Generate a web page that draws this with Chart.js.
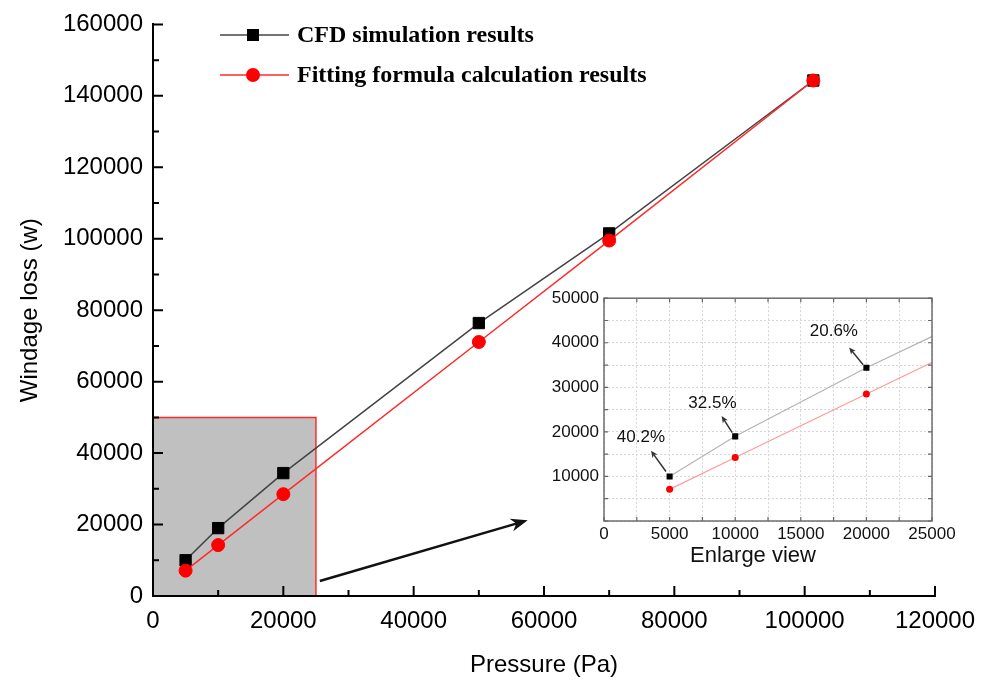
<!DOCTYPE html>
<html>
<head>
<meta charset="utf-8">
<script src="https://cdn.jsdelivr.net/npm/chart.js@4.4.1/dist/chart.umd.min.js"></script>
<style>
  html, body { margin: 0; padding: 0; background: #fff; }
  #wrap { position: relative; width: 995px; height: 683px; }
  #main { position: absolute; left: 0; top: 0; }
  #inset { position: absolute; left: 545px; top: 283px; }
</style>
</head>
<body>
<div id="wrap">
  <canvas id="main" width="995" height="683"></canvas>
  <canvas id="inset" width="420" height="295"></canvas>
</div>
<script>
// values
const pressure = [5000, 10000, 20000, 50000, 70000, 101325];
const cfdLoss = [10000, 19000, 34400, 76400, 101500, 144300];
const fitLoss = [7100, 14250, 28500, 71100, 99500, 144300];
const seriesNames = ['CFD simulation results', 'Fitting formula calculation results'];

// shaded zoom region and the arrow that points to the inset (data units)
const zoomX = [0, 25000];
const zoomY = [0, 50000];
const zoomArrow = [[25600, 4200], [57500, 21200]];

// inset annotations (data units of the inset)
const pctLabels = ['40.2%', '32.5%', '20.6%'];
const pctTextAt = [[2818, 18889], [8265, 26444], [17520, 42667]];
const pctArrowFrom = [[4723, 11111], [9773, 19844], [19752, 35044]];
const pctArrowTo = [[3580, 15778], [8965, 23556], [18685, 38956]];
const insetTitle = 'Enlarge view';

const SANS = "'Liberation Sans', Arial, sans-serif";
const SERIF = "'Liberation Serif', 'Times New Roman', serif";

const pts = ys => pressure.map((p, i) => ({ x: p, y: ys[i] }));
const num = v => String(v);

function arrow(ctx, x1, y1, x2, y2, len, wid, color, lw) {
  const a = Math.atan2(y2 - y1, x2 - x1);
  ctx.save();
  ctx.strokeStyle = color;
  ctx.fillStyle = color;
  ctx.lineWidth = lw;
  ctx.beginPath();
  ctx.moveTo(x1, y1);
  ctx.lineTo(x2 - Math.cos(a) * len * 0.6, y2 - Math.sin(a) * len * 0.6);
  ctx.stroke();
  ctx.translate(x2, y2);
  ctx.rotate(a);
  ctx.beginPath();
  ctx.moveTo(0, 0);
  ctx.lineTo(-len, -wid / 2);
  ctx.lineTo(-len * 0.7, 0);
  ctx.lineTo(-len, wid / 2);
  ctx.closePath();
  ctx.fill();
  ctx.restore();
}

// inward ticks, minor + major
function inTicks(ctx, area, xs, ys, step, big, small, both) {
  ctx.save();
  ctx.lineWidth = big > 6 ? 2 : 1.2;
  ctx.strokeStyle = big > 6 ? '#000' : '#666';
  ctx.beginPath();
  for (let v = xs.min; v <= xs.max + 1; v += step.x) {
    const px = xs.getPixelForValue(v);
    const l = (v % step.xMajor === 0) ? big : small;
    ctx.moveTo(px, area.bottom); ctx.lineTo(px, area.bottom - l);
    if (both) { ctx.moveTo(px, area.top); ctx.lineTo(px, area.top + l); }
  }
  for (let v = ys.min; v <= ys.max + 1; v += step.y) {
    const py = ys.getPixelForValue(v);
    const l = (v % step.yMajor === 0) ? big : small;
    ctx.moveTo(area.left, py); ctx.lineTo(area.left + l, py);
    if (both) { ctx.moveTo(area.right, py); ctx.lineTo(area.right - l, py); }
  }
  ctx.stroke();
  ctx.restore();
}

const mainDecor = {
  id: 'mainDecor',
  beforeDraw(chart) {
    const { ctx, scales: { x, y } } = chart;
    const l = x.getPixelForValue(zoomX[0]), r = x.getPixelForValue(zoomX[1]);
    const b = y.getPixelForValue(zoomY[0]), t = y.getPixelForValue(zoomY[1]);
    ctx.save();
    ctx.fillStyle = '#c0c0c0';
    ctx.fillRect(l, t, r - l, b - t);
    ctx.strokeStyle = '#ff2a2a';
    ctx.lineWidth = 1.5;
    ctx.beginPath();
    ctx.moveTo(l, t); ctx.lineTo(r, t); ctx.lineTo(r, b);
    ctx.stroke();
    ctx.restore();
  },
  afterDraw(chart) {
    const { ctx, chartArea: area, scales: { x, y } } = chart;
    inTicks(ctx, area, x, y, { x: 10000, xMajor: 20000, y: 10000, yMajor: 20000 }, 10, 6, false);

    arrow(ctx, x.getPixelForValue(zoomArrow[0][0]), y.getPixelForValue(zoomArrow[0][1]),
      x.getPixelForValue(zoomArrow[1][0]), y.getPixelForValue(zoomArrow[1][1]), 17, 13, '#111', 2.5);

    // legend
    chart.data.datasets.forEach((ds, i) => {
      const cy = 35 + i * 40;
      ctx.save();
      ctx.strokeStyle = ds.borderColor;
      ctx.lineWidth = 1.5;
      ctx.beginPath(); ctx.moveTo(220, cy); ctx.lineTo(289, cy); ctx.stroke();
      ctx.fillStyle = ds.pointBackgroundColor;
      ctx.beginPath();
      if (ds.pointStyle === 'rect') ctx.rect(247, cy - 6, 12, 12);
      else ctx.arc(253, cy, 7, 0, Math.PI * 2);
      ctx.fill();
      ctx.fillStyle = '#000';
      ctx.font = 'bold 24px ' + SERIF;
      ctx.textBaseline = 'middle';
      ctx.fillText(ds.label, 297, cy + 1);
      ctx.restore();
    });
  }
};

new Chart(document.getElementById('main'), {
  type: 'line',
  data: {
    datasets: [
      {
        label: seriesNames[0], data: pts(cfdLoss),
        borderColor: '#444', borderWidth: 1.5,
        pointStyle: 'rect', pointRadius: 8, pointBackgroundColor: '#000',
        pointBorderColor: '#000', pointBorderWidth: 1, order: 1
      },
      {
        label: seriesNames[1], data: pts(fitLoss),
        borderColor: '#ff2a2a', borderWidth: 1.5,
        pointStyle: 'circle', pointRadius: 6.5, pointBackgroundColor: '#ff0000',
        pointBorderColor: '#ff0000', pointBorderWidth: 1, order: 0
      }
    ]
  },
  options: {
    responsive: false,
    animation: false,
    layout: { padding: { left: 0, top: 22, right: 60, bottom: 0 } },
    plugins: { legend: { display: false }, tooltip: { enabled: false } },
    scales: {
      x: {
        type: 'linear', min: 0, max: 120000,
        afterFit: s => { s.height = 87; },
        ticks: { stepSize: 20000, maxRotation: 0, callback: num, color: '#000', padding: 11, font: { family: SANS, size: 24 } },
        grid: { display: false, drawTicks: false },
        border: { color: '#000', width: 2 },
        title: { display: true, text: 'Pressure (Pa)', color: '#000', font: { family: SANS, size: 24 }, padding: { top: 0, bottom: 3 } }
      },
      y: {
        type: 'linear', min: 0, max: 160000,
        afterFit: s => { s.width = 153; },
        ticks: { stepSize: 20000, callback: num, color: '#000', padding: 10, font: { family: SANS, size: 24 } },
        grid: { display: false, drawTicks: false },
        border: { color: '#000', width: 2 },
        title: { display: true, text: 'Windage loss (w)', color: '#000', font: { family: SANS, size: 24 }, padding: { top: 16, bottom: 0 } }
      }
    }
  },
  plugins: [mainDecor]
});

const insetDecor = {
  id: 'insetDecor',
  afterDraw(chart) {
    const { ctx, chartArea: area, scales: { x, y } } = chart;
    ctx.save();
    ctx.strokeStyle = '#6e6e6e';
    ctx.lineWidth = 1.5;
    ctx.strokeRect(area.left, area.top, area.right - area.left, area.bottom - area.top);
    ctx.restore();
    inTicks(ctx, area, x, y, { x: 2500, xMajor: 5000, y: 5000, yMajor: 10000 }, 4, 4, true);

    // axis title, sits a little left of centre in the original
    ctx.save();
    ctx.fillStyle = '#111';
    ctx.font = '22px ' + SANS;
    ctx.textAlign = 'center';
    ctx.textBaseline = 'middle';
    ctx.fillText(insetTitle, (area.left + area.right) / 2 - 15, area.bottom + 35);
    ctx.restore();

    pctLabels.forEach((txt, i) => {
      ctx.save();
      ctx.fillStyle = '#111';
      ctx.font = '17px ' + SANS;
      ctx.textAlign = 'center';
      ctx.textBaseline = 'middle';
      ctx.fillText(txt, x.getPixelForValue(pctTextAt[i][0]), y.getPixelForValue(pctTextAt[i][1]));
      ctx.restore();
      arrow(ctx, x.getPixelForValue(pctArrowFrom[i][0]), y.getPixelForValue(pctArrowFrom[i][1]),
        x.getPixelForValue(pctArrowTo[i][0]), y.getPixelForValue(pctArrowTo[i][1]), 7, 6, '#333', 1.5);
    });
  }
};

new Chart(document.getElementById('inset'), {
  type: 'line',
  data: {
    datasets: [
      {
        data: pts(cfdLoss), borderColor: '#b4b4b4', borderWidth: 1.2,
        pointStyle: 'rect', pointRadius: 4.3, pointBackgroundColor: '#000',
        pointBorderWidth: 0, order: 1
      },
      {
        data: pts(fitLoss), borderColor: '#ff9a9a', borderWidth: 1.2,
        pointStyle: 'circle', pointRadius: 3.5, pointBackgroundColor: '#ff0000',
        pointBorderWidth: 0, order: 0
      }
    ]
  },
  options: {
    responsive: false,
    animation: false,
    layout: { padding: { left: 0, top: 13, right: 33, bottom: 0 } },
    plugins: { legend: { display: false }, tooltip: { enabled: false } },
    scales: {
      x: {
        type: 'linear', min: 0, max: 25000,
        afterFit: s => { s.height = 57; },
        ticks: {
          stepSize: 2500, autoSkip: false, maxRotation: 0,
          callback: v => (v % 5000 === 0 ? String(v) : ''),
          color: '#111', padding: 3, font: { family: SANS, size: 17 }
        },
        grid: { color: '#d6d6d6', lineWidth: 1, drawTicks: false },
        border: { display: false, dash: [2, 2] }
      },
      y: {
        type: 'linear', min: 0, max: 50000,
        afterFit: s => { s.width = 59; },
        ticks: {
          stepSize: 5000, autoSkip: false,
          callback: v => (v > 0 && v % 10000 === 0 ? String(v) : ''),
          color: '#111', padding: 5, font: { family: SANS, size: 17 }
        },
        grid: { color: '#d6d6d6', lineWidth: 1, drawTicks: false },
        border: { display: false, dash: [2, 2] }
      }
    }
  },
  plugins: [insetDecor]
});
</script>
</body>
</html>
